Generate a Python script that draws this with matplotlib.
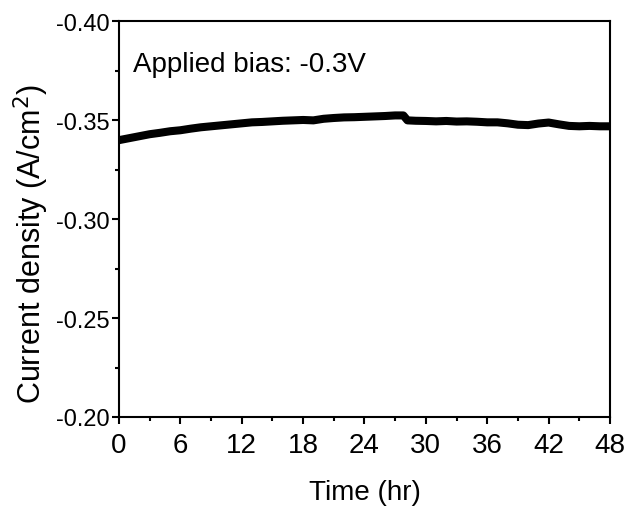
import matplotlib
matplotlib.use('Agg')
import matplotlib.pyplot as plt
from matplotlib.ticker import MultipleLocator, FormatStrFormatter

plt.rcParams['font.family'] = ['Liberation Sans', 'DejaVu Sans']

# values
timeHr = [0, 1, 2, 3, 4, 5, 6, 7, 8, 9, 10, 11, 12, 13, 14, 15, 16, 17, 18, 19,
          20, 21, 22, 23, 24, 25, 26, 27, 27.8, 28.2, 29, 30, 31, 32, 33, 34, 35,
          36, 37, 38, 39, 40, 41, 42, 43, 44, 45, 46, 47, 48]
currentDensity = [-0.3400, -0.3410, -0.3420, -0.3430, -0.3437, -0.3445, -0.3450,
                  -0.3458, -0.3465, -0.3470, -0.3475, -0.3480, -0.3485, -0.3490,
                  -0.3492, -0.3495, -0.3498, -0.3500, -0.3502, -0.3500, -0.3508,
                  -0.3512, -0.3515, -0.3516, -0.3518, -0.3520, -0.3522, -0.3525,
                  -0.3525, -0.3500, -0.3498, -0.3497, -0.3495, -0.3497, -0.3494,
                  -0.3495, -0.3493, -0.3490, -0.3490, -0.3485, -0.3478, -0.3476,
                  -0.3484, -0.3489, -0.3480, -0.3472, -0.3470, -0.3472, -0.3470,
                  -0.3470]
xTicks = [0, 6, 12, 18, 24, 30, 36, 42, 48]
annotation = 'Applied bias: -0.3V'

fig = plt.figure(figsize=(6.31, 5.10), dpi=100)
ax = fig.add_axes([0.1886, 0.1804, 0.7781, 0.7755])

ax.plot(timeHr, currentDensity, color='black', linewidth=5.8, solid_capstyle='butt')

ax.set_xlim(0, 48)
ax.set_ylim(-0.20, -0.40)
ax.set_xticks(xTicks)
ax.xaxis.set_minor_locator(MultipleLocator(3))
ax.yaxis.set_major_locator(MultipleLocator(0.05))
ax.yaxis.set_minor_locator(MultipleLocator(0.025))
ax.yaxis.set_major_formatter(FormatStrFormatter('%.2f'))

for side in ['top', 'right', 'left', 'bottom']:
  ax.spines[side].set_linewidth(1.5)

ax.tick_params(which='major', direction='out', length=5, width=1.5, top=False, right=False)
ax.tick_params(which='minor', direction='out', length=3, width=1.5, top=False, right=False)
ax.tick_params(axis='x', which='major', labelsize=20, pad=6)
ax.tick_params(axis='y', which='major', labelsize=17, pad=2)

ax.set_xlabel('Time (hr)', fontsize=20, labelpad=15)
ax.set_ylabel('Current density (A/cm$^2$)', fontsize=22)
ax.yaxis.set_label_coords(-0.139, 0.44)

ax.text(0.0285, 0.875, annotation, transform=ax.transAxes, fontsize=20, ha='left', va='baseline')

fig.savefig('out.png', dpi=100)
